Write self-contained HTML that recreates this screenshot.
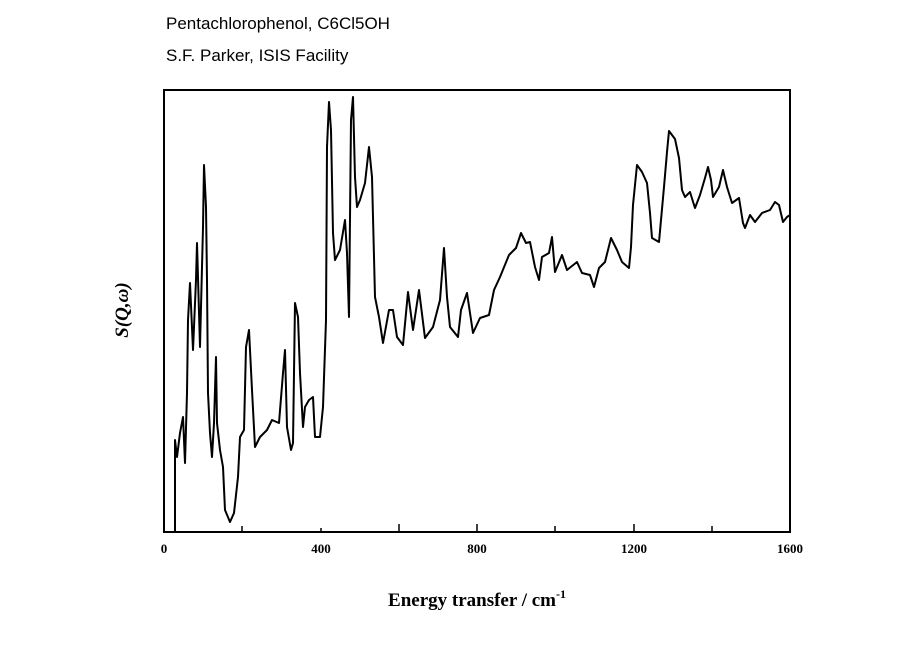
<!DOCTYPE html>
<html><head><style>body{margin:0;background:#fff}</style></head><body>
<svg width="918" height="640" xmlns="http://www.w3.org/2000/svg">
<rect width="918" height="640" fill="#fff"/>
<text x="166" y="29" font-family="Liberation Sans, sans-serif" font-size="17">Pentachlorophenol, C6Cl5OH</text>
<text x="166" y="61" font-family="Liberation Sans, sans-serif" font-size="17">S.F. Parker, ISIS Facility</text>
<rect x="164" y="90" width="626" height="442" fill="none" stroke="#000" stroke-width="2"/>
<g stroke="#000" stroke-width="1.5">
<line x1="242" y1="532" x2="242" y2="526"/><line x1="399" y1="532" x2="399" y2="524"/>
<line x1="555" y1="532" x2="555" y2="526"/><line x1="712" y1="532" x2="712" y2="526"/>
<line x1="321" y1="532" x2="321" y2="528"/><line x1="477" y1="532" x2="477" y2="524"/>
<line x1="634" y1="532" x2="634" y2="524"/>
</g>
<g font-family="Liberation Serif, serif" font-weight="bold" font-size="13" text-anchor="middle">
<text x="164" y="553">0</text><text x="321" y="553">400</text><text x="477" y="553">800</text><text x="634" y="553">1200</text><text x="790" y="553">1600</text>
</g>
<text x="477" y="606" font-family="Liberation Serif, serif" font-weight="bold" font-size="19" text-anchor="middle">Energy transfer / cm<tspan font-size="12" dy="-8">-1</tspan></text>
<text transform="translate(128,310) rotate(-90)" font-family="Liberation Serif, serif" font-weight="bold" font-style="italic" font-size="19" text-anchor="middle">S(Q,ω)</text>
<polyline fill="none" stroke="#000" stroke-width="2" stroke-linejoin="round" points="175,533 175,440 177,457 180,433 183,417 185,463 187,393 188,320 190,283 193,350 196,280 197,243 200,347 203,227 204,165 206,207 207,280 208,393 210,433 212,457 214,423 216,357 217,423 220,450 223,467 225,510 230,522 234,513 238,477 240,437 244,430 246,347 249,330 252,390 255,447 260,437 267,430 272,420 279,423 283,373 285,350 287,427 291,450 293,443 295,303 298,317 300,373 303,427 305,407 309,400 313,397 315,437 320,437 323,407 326,320 327,147 329,102 331,130 333,233 335,260 340,250 345,220 347,253 349,317 351,120 353,97 355,177 357,207 360,200 365,183 369,147 372,177 375,297 379,317 383,343 389,310 393,310 397,337 403,345 408,292 413,330 419,290 425,338 433,327 440,300 444,248 447,297 450,327 458,337 461,310 467,293 473,333 480,318 489,315 494,290 500,277 509,255 516,248 521,233 526,243 530,242 535,267 539,280 542,257 549,253 552,237 555,272 562,255 567,270 577,262 582,273 590,275 594,287 599,268 605,262 611,238 617,250 622,262 629,268 631,247 633,205 637,165 642,172 647,183 650,213 652,238 659,242 661,220 664,187 667,152 669,131 675,139 679,158 682,190 685,197 690,192 695,208 700,195 705,178 708,167 711,180 713,197 719,187 723,170 727,187 732,203 739,198 743,223 745,228 750,215 755,222 762,213 770,210 775,202 779,205 783,222 787,217 790,215"/>
</svg>
</body></html>
